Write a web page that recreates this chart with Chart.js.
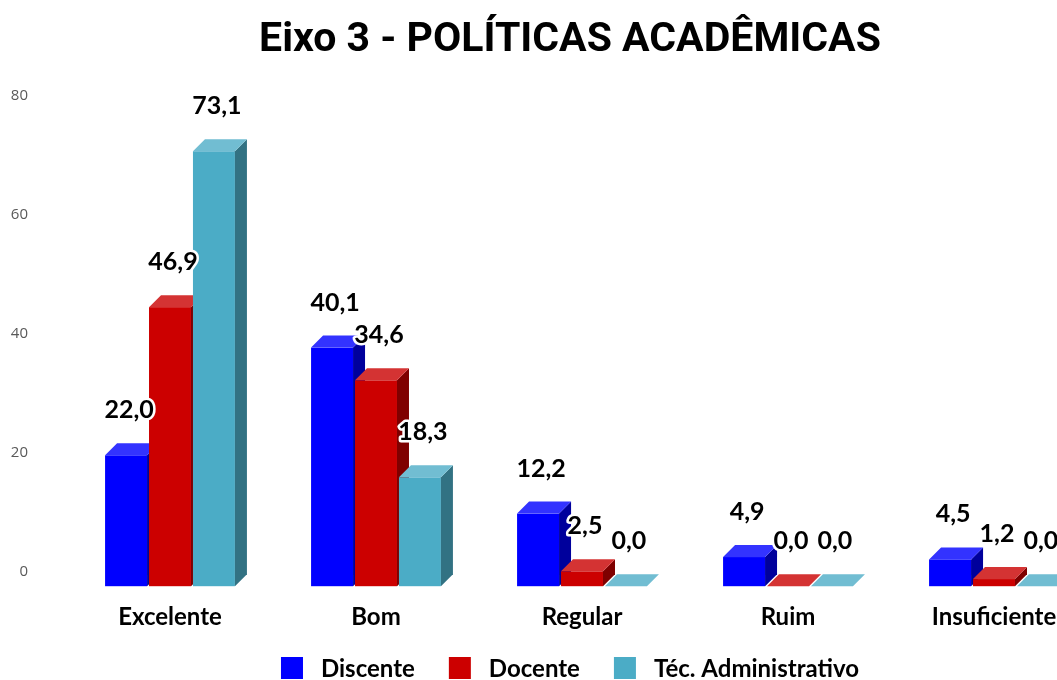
<!DOCTYPE html>
<html>
<head>
<meta charset="utf-8">
<script src="https://cdn.jsdelivr.net/npm/chart.js@4/dist/chart.umd.min.js"></script>
<style>
  html, body { margin: 0; padding: 0; background: #fff; overflow: hidden; }
  #wrap { width: 1140px; height: 680px; }
</style>
</head>
<body>
<div id="wrap"><canvas id="c" width="1140" height="680"></canvas></div>
<script>
const categories = ['Excelente', 'Bom', 'Regular', 'Ruim', 'Insuficiente'];
const discente = [22.0, 40.1, 12.2, 4.9, 4.5];
const docente = [46.9, 34.6, 2.5, 0.0, 1.2];
const tecAdm = [73.1, 18.3, 0.0, 0.0, 0.0];
const seriesNames = ['Discente', 'Docente', 'Téc. Administrativo'];
const yTicks = [0, 20, 40, 60, 80];

const faceColors = [
  { front: '#0000FF', top: '#3333FF', side: '#00009C' },
  { front: '#CC0000', top: '#D43333', side: '#7F0000' },
  { front: '#4BACC6', top: '#71BDD2', side: '#327283' }
];
const DEPTH = 12;

const bars3d = {
  id: 'bars3d',
  beforeDatasetsDraw(chart) {
    const ctx = chart.ctx;
    const metas = chart.data.datasets.map((d, i) => chart.getDatasetMeta(i));
    ctx.save();
    for (let c = 0; c < categories.length; c++) {
      metas.forEach((meta, di) => {
        const el = meta.data[c];
        const col = faceColors[di];
        const l = el.x - el.width / 2, r = el.x + el.width / 2;
        const t = el.y, b = el.base;
        if (b - t > 0.5) {
          ctx.fillStyle = col.front;
          ctx.fillRect(l, t, r - l, b - t);
        }
        ctx.fillStyle = col.side;
        ctx.beginPath();
        ctx.moveTo(r, t); ctx.lineTo(r + DEPTH, t - DEPTH);
        ctx.lineTo(r + DEPTH, b - DEPTH); ctx.lineTo(r, b);
        ctx.closePath(); ctx.fill();
        ctx.fillStyle = col.top;
        ctx.beginPath();
        ctx.moveTo(l, t); ctx.lineTo(l + DEPTH, t - DEPTH);
        ctx.lineTo(r + DEPTH, t - DEPTH); ctx.lineTo(r, t);
        ctx.closePath(); ctx.fill();
      });
    }
    ctx.font = 'bold 25px Lato';
    ctx.textAlign = 'center';
    ctx.textBaseline = 'middle';
    ctx.lineJoin = 'round';
    for (let c = 0; c < categories.length; c++) {
      metas.forEach((meta, di) => {
        const el = meta.data[c];
        const v = chart.data.datasets[di].data[c];
        const txt = v.toFixed(1).replace('.', ',');
        const x = el.x + 3, y = el.y - 45;
        ctx.strokeStyle = '#ffffff';
        ctx.lineWidth = 5;
        ctx.strokeText(txt, x, y);
        ctx.fillStyle = '#000000';
        ctx.fillText(txt, x, y);
      });
    }
    ctx.restore();
    return false;
  },
  afterDraw(chart) {
    const ctx = chart.ctx;
    ctx.save();
    ctx.font = 'bold 24px Lato';
    ctx.textBaseline = 'middle';
    ctx.textAlign = 'left';
    const box = 22, gapText = 18, gapItem = 34;
    const items = chart.data.datasets.map((d, i) => ({
      label: d.label, color: faceColors[i].front,
      w: box + gapText + ctx.measureText(d.label).width
    }));
    const total = items.reduce((s, it) => s + it.w, 0) + gapItem * (items.length - 1);
    let x = chart.width / 2 - total / 2;
    const cy = 668;
    items.forEach(it => {
      ctx.fillStyle = it.color;
      ctx.fillRect(x, cy - box / 2, box, box);
      ctx.fillStyle = '#000';
      ctx.fillText(it.label, x + box + gapText, cy + 1);
      x += it.w + gapItem;
    });
    ctx.restore();
  }
};

new Chart(document.getElementById('c'), {
  type: 'bar',
  data: {
    labels: categories,
    datasets: [
      { label: seriesNames[0], data: discente, backgroundColor: faceColors[0].front },
      { label: seriesNames[1], data: docente, backgroundColor: faceColors[1].front },
      { label: seriesNames[2], data: tecAdm, backgroundColor: faceColors[2].front }
    ]
  },
  options: {
    responsive: false,
    animation: false,
    layout: { padding: { left: 0, right: 0, top: 0, bottom: 31 } },
    datasets: { bar: { categoryPercentage: 0.64, barPercentage: 0.955 } },
    plugins: {
      title: {
        display: true,
        text: 'Eixo 3 - POLÍTICAS ACADÊMICAS',
        color: '#000',
        font: { family: 'Roboto', weight: 'bold', size: 41 },
        padding: { top: 16, bottom: 45 }
      },
      legend: { display: false },
      tooltip: { enabled: false }
    },
    scales: {
      x: {
        grid: { display: false, drawTicks: false },
        border: { display: false },
        ticks: { color: '#000', padding: 17, font: { family: 'Lato', weight: 'bold', size: 24 } }
      },
      y: {
        min: 0, max: 80,
        afterFit: s => { s.width = 67; },
        afterBuildTicks: s => { s.ticks = yTicks.map(v => ({ value: v })); },
        grid: { display: false, drawTicks: false },
        border: { display: false },
        ticks: { color: '#595959', padding: 39, labelOffset: -14, font: { family: 'Open Sans', size: 15 } }
      },
      yRight: {
        position: 'right',
        min: 0, max: 80,
        afterFit: s => { s.width = 43; },
        grid: { display: false, drawTicks: false },
        border: { display: false },
        ticks: { display: false }
      }
    }
  },
  plugins: [bars3d]
});
</script>
</body>
</html>
